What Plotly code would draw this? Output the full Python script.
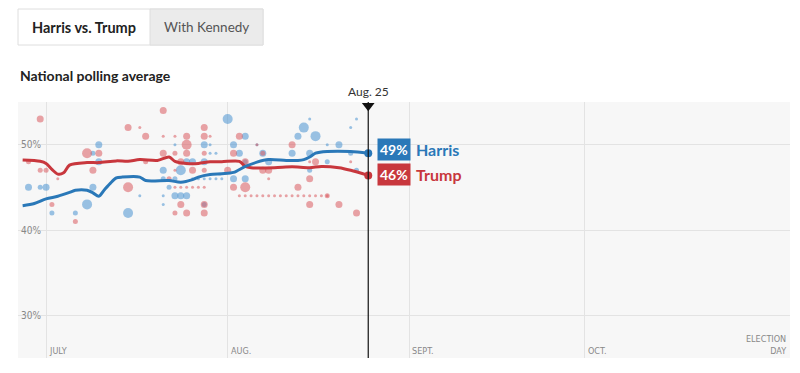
import plotly.graph_objects as go

# ---------------- data ----------------
harris_avg_dates = ["2024-06-27", "2024-06-29", "2024-07-01", "2024-07-03", "2024-07-05", "2024-07-06",
                    "2024-07-08", "2024-07-09", "2024-07-10", "2024-07-11", "2024-07-12", "2024-07-13",
                    "2024-07-14", "2024-07-17", "2024-07-18", "2024-07-22", "2024-07-24", "2024-07-26",
                    "2024-07-27", "2024-07-29", "2024-07-31", "2024-08-02", "2024-08-04", "2024-08-06",
                    "2024-08-08", "2024-08-11", "2024-08-13", "2024-08-14", "2024-08-15", "2024-08-16",
                    "2024-08-18", "2024-08-22", "2024-08-25"]
harris_avg = [42.85, 43.1, 43.65, 43.95, 44.4, 44.65,
              44.65, 44.35, 43.95, 44.75, 45.5, 46.1,
              46.2, 46.2, 45.8, 45.8, 45.6, 45.9,
              46.2, 46.5, 46.6, 46.75, 47.45, 47.95,
              48.25, 48.15, 48.15, 48.25, 48.55, 49.0,
              49.2, 49.2, 49.0]

trump_avg_dates = ["2024-06-27", "2024-06-30", "2024-07-01", "2024-07-02", "2024-07-03", "2024-07-04",
                   "2024-07-05", "2024-07-08", "2024-07-10", "2024-07-13", "2024-07-15", "2024-07-17",
                   "2024-07-20", "2024-07-22", "2024-07-23", "2024-07-25", "2024-07-27", "2024-07-29",
                   "2024-07-31", "2024-08-03", "2024-08-04", "2024-08-05", "2024-08-09", "2024-08-12",
                   "2024-08-15", "2024-08-17", "2024-08-20", "2024-08-22", "2024-08-25"]
trump_avg = [48.2, 48.05, 47.8, 47.1, 46.55, 46.7,
             47.6, 47.9, 47.9, 48.1, 48.05, 48.25,
             48.15, 48.55, 48.05, 47.8, 47.8, 48.0,
             48.0, 48.05, 47.45, 47.3, 47.3, 47.4,
             47.3, 47.45, 47.3, 47.0, 46.4]

harris_poll_dates = ["2024-06-28", "2024-06-30", "2024-07-01", "2024-07-02", "2024-07-06", "2024-07-08",
                     "2024-07-09", "2024-07-09", "2024-07-10", "2024-07-10", "2024-07-15", "2024-07-17",
                     "2024-07-21", "2024-07-21", "2024-07-21", "2024-07-21", "2024-07-22", "2024-07-23",
                     "2024-07-23", "2024-07-23", "2024-07-24", "2024-07-24", "2024-07-25", "2024-07-25",
                     "2024-07-26", "2024-07-28", "2024-07-28", "2024-07-28", "2024-07-29", "2024-07-29",
                     "2024-07-30", "2024-08-01", "2024-08-02", "2024-08-02", "2024-08-03", "2024-08-04",
                     "2024-08-04", "2024-08-04", "2024-08-06", "2024-08-07", "2024-08-08", "2024-08-12",
                     "2024-08-13", "2024-08-14", "2024-08-15", "2024-08-15", "2024-08-15", "2024-08-16",
                     "2024-08-18", "2024-08-18", "2024-08-20", "2024-08-22", "2024-08-22", "2024-08-23",
                     "2024-08-23",
                     "2024-07-26", "2024-07-27", "2024-07-28", "2024-07-29", "2024-07-30", "2024-07-31"]
harris_poll_values = [45, 45, 45, 42, 42, 43,
                      49, 45, 50, 48, 42, 44,
                      47, 46, 44, 43, 45, 50,
                      46, 44, 47, 44, 48, 44,
                      48, 50, 48, 43, 50, 49,
                      49, 53, 50, 46, 49, 51,
                      46, 48, 50, 49, 48, 49,
                      51, 52, 53, 49, 47, 51,
                      48, 50, 50, 52, 49, 53,
                      47,
                      46, 46, 46, 46, 46, 46]
harris_poll_weights = [3, 2, 3, 2, 2, 4,
                       2, 3, 3, 3, 4, 1,
                       3, 2, 1, 1, 2, 1,
                       2, 3, 4, 3, 3, 3,
                       3, 3, 3, 2, 1, 1,
                       1, 4, 3, 3, 3, 3,
                       3, 2, 1, 3, 3, 3,
                       3, 4, 1, 3, 2, 4,
                       2, 1, 3, 1, 2, 1,
                       2,
                       1, 1, 1, 1, 1, 1]

trump_poll_dates = ["2024-06-28", "2024-06-30", "2024-06-30", "2024-07-01", "2024-07-02", "2024-07-03",
                    "2024-07-06", "2024-07-08", "2024-07-09", "2024-07-10", "2024-07-15", "2024-07-15",
                    "2024-07-17", "2024-07-18", "2024-07-18", "2024-07-21", "2024-07-21", "2024-07-21",
                    "2024-07-22", "2024-07-23", "2024-07-23", "2024-07-23", "2024-07-23", "2024-07-24",
                    "2024-07-24", "2024-07-25", "2024-07-25", "2024-07-25", "2024-07-25", "2024-07-26",
                    "2024-07-28", "2024-07-28", "2024-07-28", "2024-07-28", "2024-07-28", "2024-07-28",
                    "2024-07-29", "2024-08-01", "2024-08-02", "2024-08-02", "2024-08-03", "2024-08-04",
                    "2024-08-04", "2024-08-06", "2024-08-07", "2024-08-07", "2024-08-08", "2024-08-08",
                    "2024-08-12", "2024-08-13", "2024-08-15", "2024-08-15", "2024-08-15", "2024-08-16",
                    "2024-08-18", "2024-08-20", "2024-08-22", "2024-08-23",
                    "2024-07-23", "2024-07-24", "2024-07-25", "2024-07-26", "2024-07-27", "2024-07-28",
                    "2024-08-03", "2024-08-04", "2024-08-05", "2024-08-06", "2024-08-07", "2024-08-08",
                    "2024-08-09", "2024-08-10", "2024-08-11", "2024-08-12", "2024-08-13", "2024-08-14",
                    "2024-08-15", "2024-08-16", "2024-08-17", "2024-08-18"]
trump_poll_values = [48, 53, 47, 47, 43, 46,
                     41, 49, 47, 49, 52, 45,
                     52, 51, 48, 54, 51, 49,
                     46, 51, 49, 47, 42, 48,
                     43, 51, 50, 49, 42, 47,
                     52, 51, 49, 47, 43, 42,
                     51, 47, 49, 45, 51, 48,
                     45, 50, 49, 47, 47, 46,
                     50, 45, 48, 46, 43, 48,
                     44, 43, 48, 42,
                     45, 45, 45, 45, 45, 45,
                     44, 44, 44, 44, 44, 44,
                     44, 44, 44, 44, 44, 44,
                     44, 44, 44, 44]
trump_poll_weights = [2, 3, 2, 2, 2, 1,
                      2, 4, 3, 3, 3, 4,
                      1, 3, 2, 3, 1, 3,
                      2, 1, 2, 1, 2, 3,
                      3, 3, 4, 3, 3, 3,
                      3, 3, 2, 2, 3, 3,
                      1, 3, 3, 3, 3, 3,
                      4, 1, 2, 3, 3, 1,
                      3, 3, 1, 3, 3, 3,
                      2, 3, 1, 3,
                      1, 1, 1, 1, 1, 1,
                      1, 1, 1, 1, 1, 1,
                      1, 1, 1, 1, 1, 1,
                      1, 1, 1, 1]

month_ticks = ["2024-07-01", "2024-08-01", "2024-09-01", "2024-10-01"]
month_labels = ["JULY", "AUG.", "SEPT.", "OCT."]
election_day = "2024-11-05"
today = "2024-08-25"
today_label = "Aug. 25"
y_ticks = [30, 40, 50]
y_tick_labels = ["30%", "40%", "50%"]
candidates = ["Harris", "Trump"]

# ---------------- style ----------------
BLUE = "#2a78b8"
RED = "#c8373d"
BLUE_DOT = "#4b93d1"
RED_DOT = "#da5b60"
W, H = 800, 373
ML, MR, MT, MB = 18, 10, 102, 15
PW, PH = W - ML - MR, H - MT - MB
FONT = "Lato, Roboto, Arial, sans-serif"
NARROW = "'Liberation Sans Narrow', 'DejaVu Sans Condensed', Roboto, sans-serif"
size_map = {1: 3, 2: 5, 3: 7, 4: 10}


def px(xp):
    return (xp - ML) / PW


def py(yp):
    return (MT + PH - yp) / PH


fig = go.Figure()

fig.add_trace(go.Scatter(
    x=harris_poll_dates, y=harris_poll_values, mode="markers",
    marker=dict(color=BLUE_DOT, opacity=0.55, size=[size_map[w] for w in harris_poll_weights],
                line=dict(width=0)),
    hoverinfo="skip", showlegend=False))
fig.add_trace(go.Scatter(
    x=trump_poll_dates, y=trump_poll_values, mode="markers",
    marker=dict(color=RED_DOT, opacity=0.55, size=[size_map[w] for w in trump_poll_weights],
                line=dict(width=0)),
    hoverinfo="skip", showlegend=False))

for dates, vals, col in [(trump_avg_dates, trump_avg, RED), (harris_avg_dates, harris_avg, BLUE)]:
    fig.add_trace(go.Scatter(x=dates, y=vals, mode="lines",
                             line=dict(color=col, width=3, shape="spline", smoothing=0.8),
                             hoverinfo="skip", showlegend=False))
    fig.add_trace(go.Scatter(x=[dates[-1]], y=[vals[-1]], mode="markers",
                             marker=dict(color=col, size=8), hoverinfo="skip",
                             showlegend=False, cliponaxis=False))

# today marker line + triangle
fig.add_shape(type="line", xref="x", yref="paper", x0=today, x1=today, y0=0, y1=1.0,
              line=dict(color="#111", width=1.2), layer="above")
fig.add_trace(go.Scatter(x=[today], y=[54.55], mode="markers",
                         marker=dict(symbol="triangle-down", size=11, color="#111"),
                         cliponaxis=False, hoverinfo="skip", showlegend=False))
fig.add_annotation(x=today, xref="x", y=py(91), yref="paper", text=today_label, showarrow=False,
                   font=dict(family=FONT, size=12, color="#333"), xanchor="center", yanchor="middle")

# end labels
end_labels = [
    (candidates[0], harris_avg[-1], BLUE, 149),
    (candidates[1], trump_avg[-1], RED, 174),
]
for name, val, col, ypix in end_labels:
    fig.add_annotation(x=px(377), xref="paper", y=py(ypix), yref="paper",
                       text="<b>%d%%</b>" % int(val), showarrow=False, xanchor="left", yanchor="middle",
                       font=dict(family=FONT, size=14, color="white"), bgcolor=col, borderpad=2)
    fig.add_annotation(x=px(414), xref="paper", y=py(ypix), yref="paper",
                       text="<b>%s</b>" % name, showarrow=False, xanchor="left", yanchor="middle",
                       font=dict(family=FONT, size=16, color=col))

# x labels inside plot bottom
for d, lab in zip(month_ticks, month_labels):
    fig.add_annotation(x=d, xref="x", y=0, yref="paper", text=lab, showarrow=False,
                       xanchor="left", yanchor="bottom", xshift=1, yshift=0,
                       font=dict(family=NARROW, size=9, color="#888"))
fig.add_annotation(x=election_day, xref="x", y=0, yref="paper", text="ELECTION<br>DAY",
                   showarrow=False, xanchor="right", yanchor="bottom", align="right", xshift=-2, yshift=0,
                   font=dict(family=NARROW, size=9, color="#888"))

# title and toggle buttons
fig.add_annotation(x=0, xref="paper", y=py(75), yref="paper", text="<b>National polling average</b>",
                   showarrow=False, xanchor="left", yanchor="middle",
                   font=dict(family=FONT, size=14, color="#222"))
fig.add_shape(type="rect", xref="paper", yref="paper", x0=px(18), x1=px(263), y0=py(45), y1=py(9),
              line=dict(color="#dedede", width=1), fillcolor="white", layer="above")
fig.add_shape(type="rect", xref="paper", yref="paper", x0=px(150), x1=px(263), y0=py(45), y1=py(9),
              line=dict(color="#dedede", width=1), fillcolor="#ebebeb", layer="above")
fig.add_annotation(x=px(84), xref="paper", y=py(27), yref="paper", text="<b>Harris vs. Trump</b>",
                   showarrow=False, xanchor="center", yanchor="middle",
                   font=dict(family=FONT, size=14.5, color="#222"))
fig.add_annotation(x=px(206), xref="paper", y=py(27), yref="paper", text="With Kennedy",
                   showarrow=False, xanchor="center", yanchor="middle",
                   font=dict(family=FONT, size=13.5, color="#555"))

fig.update_layout(
    width=W, height=H, margin=dict(l=ML, r=MR, t=MT, b=MB),
    paper_bgcolor="white", plot_bgcolor="#f7f7f7",
    xaxis=dict(range=["2024-06-26 05:00", election_day], tickvals=month_ticks, showticklabels=False,
               showgrid=True, gridcolor="#e3e3e3", gridwidth=1, zeroline=False, showline=False,
               ticks=""),
    yaxis=dict(range=[25, 55], tickvals=y_ticks, ticktext=y_tick_labels, ticklabelposition="inside",
               showgrid=True, gridcolor="#e3e3e3", zeroline=False, showline=False, ticks="",
               tickfont=dict(family=NARROW, size=10, color="#888")),
    showlegend=False,
)

fig.write_html("out.html", config={"displayModeBar": False, "staticPlot": True},
               post_script="document.body.style.margin='0';document.body.style.overflow='hidden';")
